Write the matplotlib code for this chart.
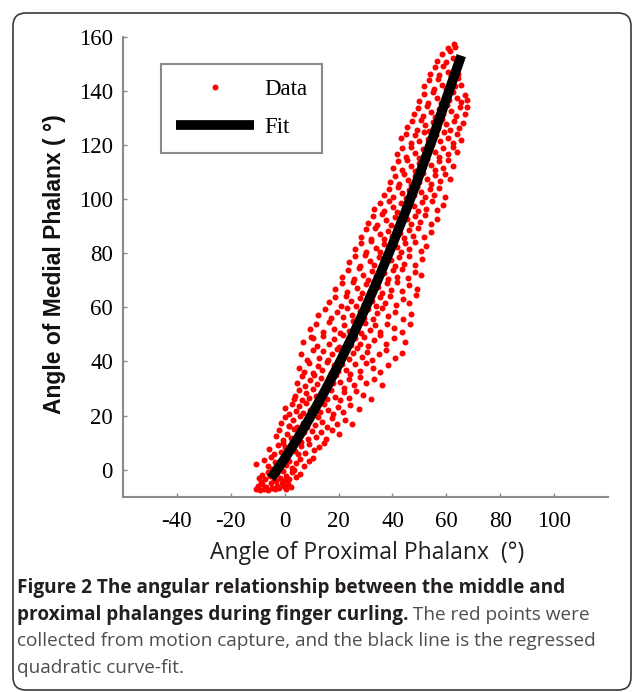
import numpy as np
import matplotlib
matplotlib.use("Agg")
from matplotlib import pyplot as plt
from matplotlib.patches import FancyBboxPatch
from matplotlib.lines import Line2D
from matplotlib.transforms import IdentityTransform

# red motion-capture points, (proximal angle, medial angle)
data_points = [
    # bottom blob
    (-10.5, -7.2), (-9.8, -6.1), (-9.0, -7.5), (-8.2, -5.4), (-7.5, -7.0), (-6.8, -6.3), (-6.0, -7.6),
    (-5.2, -5.0), (-4.5, -6.8), (-3.6, -7.3), (-2.8, -5.9), (-2.0, -6.9), (-1.1, -4.8), (-0.3, -6.2),
    (0.6, -7.1), (1.4, -5.3), (2.3, -6.4), (-8.8, -4.5), (-3.0, -4.2), (0.2, -4.0),
    (-9.6, -3.1), (-8.4, -1.8), (-7.2, -3.6), (-6.1, -0.9), (-5.3, -2.4), (-3.9, -3.8), (-2.7, -1.2),
    (-1.8, -3.0), (-0.6, -0.4), (0.5, -2.2), (1.7, -3.4), (2.8, -1.0), (4.1, -2.6), (5.6, -1.5),
    (-4.6, 0.2), (3.4, -0.1),
    # 0 .. 20
    (-10.5, 2.0), (-7.8, 3.6), (-6.2, 1.4), (-5.0, 4.5), (-3.4, 2.8), (-2.1, 0.9), (-0.8, 4.1),
    (0.4, 1.7), (1.6, 3.3), (2.9, 0.6), (4.3, 2.4), (5.8, 4.0), (7.2, 1.2), (8.9, 3.1), (10.6, 4.2),
    (-5.6, 7.8), (-4.0, 5.9), (-2.5, 9.2), (-1.3, 6.7), (0.1, 8.5), (1.2, 5.4), (2.6, 9.6), (3.7, 7.0),
    (4.9, 5.8), (6.2, 8.9), (7.6, 6.3), (9.1, 9.4), (10.8, 7.1), (12.6, 8.4), (14.5, 9.7), (-0.4, 10.0),
    (-3.2, 12.5), (-1.9, 14.6), (-0.5, 10.9), (0.8, 13.3), (2.3, 11.6), (3.5, 14.9), (4.8, 12.1),
    (6.0, 10.4), (7.3, 13.8), (8.7, 11.3), (10.2, 14.2), (11.8, 12.0), (13.5, 13.9), (15.3, 11.5),
    (17.6, 14.6), (20.2, 13.1), (1.5, 16.0),
    (-1.4, 17.2), (0.2, 19.5), (1.6, 16.1), (3.1, 18.3), (4.5, 15.6), (5.7, 19.8), (7.0, 17.4),
    (8.4, 15.9), (9.6, 18.8), (11.1, 16.6), (12.5, 19.3), (14.0, 17.5), (15.8, 15.8), (17.5, 19.0),
    (19.6, 16.9), (22.4, 18.4), (25.0, 16.8),
    # 20 .. 50
    (0.1, 22.8), (1.5, 20.4), (2.8, 24.1), (4.2, 21.7), (5.5, 23.6), (6.8, 20.9), (8.0, 24.7),
    (9.3, 22.2), (10.6, 20.3), (11.9, 23.9), (13.3, 21.4), (14.8, 24.4), (16.2, 22.0), (17.9, 20.6),
    (19.7, 23.3), (21.8, 21.2), (24.3, 24.0), (27.5, 22.5), (3.5, 26.0),
    (3.9, 27.4), (5.2, 29.6), (6.6, 25.8), (7.9, 28.3), (9.1, 26.5), (10.5, 29.9), (11.8, 27.1),
    (13.2, 25.4), (14.5, 28.8), (15.9, 26.2), (17.3, 29.3), (18.7, 27.0), (20.4, 25.6), (22.1, 28.6),
    (24.0, 26.4), (26.3, 29.0), (29.2, 27.5), (32.0, 26.0),
    (4.6, 32.2), (6.3, 34.5), (7.7, 30.8), (9.4, 33.1), (10.8, 35.0), (12.1, 31.5), (13.6, 33.8),
    (15.0, 30.6), (16.4, 34.2), (17.8, 31.9), (19.2, 34.8), (20.6, 32.4), (22.2, 30.3), (23.9, 33.6),
    (25.7, 31.1), (27.8, 34.4), (30.1, 32.0), (33.0, 33.5), (36.0, 31.2),
    (5.3, 37.5), (7.2, 36.1), (9.0, 39.4), (10.6, 35.6), (12.3, 38.2), (14.0, 36.8), (15.6, 39.7),
    (17.1, 35.9), (18.5, 38.6), (19.9, 36.4), (21.3, 39.2), (22.8, 37.0), (24.4, 35.3), (26.1, 38.9),
    (28.0, 36.6), (30.2, 39.5), (32.6, 37.4), (35.3, 36.2), (38.4, 38.6),
    (6.2, 42.8), (8.4, 40.7), (10.5, 44.2), (12.6, 41.3), (14.4, 43.7), (16.1, 40.4), (17.7, 42.9),
    (19.3, 44.6), (20.8, 41.6), (22.3, 43.9), (23.8, 40.9), (25.3, 43.1), (26.9, 44.8), (28.6, 41.8),
    (30.4, 43.5), (32.5, 40.5), (34.9, 42.6), (37.6, 44.1), (40.8, 41.4), (43.5, 43.0),
    (6.8, 47.0), (9.7, 48.9), (11.9, 45.8), (14.2, 49.3), (16.5, 46.6), (18.3, 48.4), (20.0, 45.5),
    (21.6, 49.7), (23.1, 47.2), (24.7, 45.9), (26.2, 48.8), (27.8, 46.4), (29.4, 49.1), (31.1, 45.7),
    (33.0, 47.8), (35.2, 49.6), (37.7, 46.3), (40.5, 48.5), (44.8, 47.3), (10.4, 48.6),
    # 50 .. 100
    (9.3, 51.8), (11.8, 53.9), (14.1, 50.7), (16.4, 54.5), (18.5, 52.1), (20.4, 50.4), (22.1, 53.6),
    (23.7, 51.2), (25.2, 54.8), (26.8, 52.4), (28.3, 50.6), (29.9, 54.1), (31.5, 51.7), (33.4, 53.3),
    (35.5, 50.9), (37.9, 54.0), (40.6, 52.2), (43.6, 51.0), (46.5, 53.8),
    (12.4, 57.3), (14.9, 59.4), (17.2, 55.9), (19.5, 58.1), (21.5, 56.4), (23.3, 59.6), (25.0, 57.0),
    (26.6, 55.3), (28.1, 58.7), (29.6, 56.2), (31.1, 59.2), (32.7, 55.7), (34.4, 57.9), (36.3, 59.8),
    (38.5, 56.6), (41.0, 58.4), (43.8, 55.5), (47.0, 57.6),
    (16.3, 61.9), (18.7, 63.8), (20.9, 60.6), (22.8, 64.3), (24.6, 62.2), (26.3, 60.3), (27.9, 63.5),
    (29.4, 61.1), (30.9, 64.6), (32.4, 62.4), (33.9, 60.5), (35.5, 63.7), (37.2, 61.6), (39.1, 64.1),
    (41.3, 60.9), (43.8, 63.0), (46.2, 61.7), (48.9, 64.4),
    (18.8, 66.9), (21.2, 68.8), (23.3, 65.6), (25.2, 69.5), (27.0, 67.2), (28.7, 65.4), (30.3, 68.5),
    (31.8, 66.1), (33.3, 69.7), (34.8, 67.6), (36.3, 65.3), (37.9, 68.9), (39.6, 66.5), (41.5, 69.2),
    (43.7, 65.9), (46.2, 68.1), (49.0, 66.7),
    (21.4, 71.3), (23.6, 73.9), (25.6, 70.6), (27.5, 74.5), (29.2, 72.0), (30.9, 70.2), (32.5, 73.4),
    (34.0, 71.5), (35.5, 74.7), (37.0, 72.6), (38.5, 70.4), (40.1, 73.8), (41.8, 71.2), (43.7, 74.2),
    (45.9, 70.8), (48.3, 73.1), (50.6, 71.9),
    (23.8, 76.6), (26.0, 78.9), (28.0, 75.4), (29.9, 79.3), (31.6, 77.0), (33.3, 75.6), (34.9, 78.5),
    (36.4, 76.3), (37.9, 79.6), (39.4, 77.4), (40.9, 75.2), (42.5, 78.7), (44.2, 76.1), (46.1, 79.1),
    (48.3, 75.8), (50.8, 77.9),
    (26.2, 81.5), (28.4, 83.8), (30.3, 80.4), (32.1, 84.5), (33.8, 82.0), (35.4, 80.3), (37.0, 83.4),
    (38.5, 81.2), (40.0, 84.6), (41.5, 82.4), (43.0, 80.6), (44.6, 83.9), (46.3, 81.5), (48.2, 84.2),
    (50.4, 80.9), (52.6, 82.8),
    (28.2, 86.1), (30.2, 88.8), (31.9, 85.4), (33.6, 89.4), (35.2, 87.0), (36.8, 85.2), (38.4, 88.3),
    (39.9, 86.5), (41.4, 89.6), (42.9, 87.4), (44.4, 85.5), (46.0, 88.7), (47.7, 86.3), (49.6, 89.2),
    (51.8, 85.9), (54.2, 87.8),
    (30.8, 91.2), (32.7, 93.7), (34.4, 90.5), (36.1, 94.4), (37.7, 92.1), (39.3, 90.3), (40.9, 93.3),
    (42.4, 91.4), (43.9, 94.6), (45.4, 92.5), (46.9, 90.6), (48.5, 93.9), (50.2, 91.6), (52.1, 94.2),
    (54.3, 90.9), (56.5, 92.8),
    (33.3, 96.4), (35.2, 98.7), (36.9, 95.5), (38.6, 99.4), (40.2, 97.1), (41.8, 95.3), (43.3, 98.4),
    (44.8, 96.3), (46.3, 99.6), (47.8, 97.5), (49.3, 95.6), (50.9, 98.9), (52.6, 96.5), (54.5, 99.2),
    (56.6, 95.9), (58.8, 97.8),
    # 100 .. top
    (36.8, 101.6), (38.7, 103.7), (40.3, 100.6), (41.9, 104.4), (43.4, 102.1), (44.9, 100.3),
    (46.3, 103.3), (47.8, 101.4), (49.2, 104.6), (50.7, 102.5), (52.2, 100.7), (53.8, 103.9),
    (55.5, 101.5), (57.3, 104.2), (59.4, 100.9),
    (39.2, 106.3), (41.0, 108.7), (42.6, 105.5), (44.1, 109.4), (45.6, 107.1), (47.0, 105.3),
    (48.4, 108.4), (49.9, 106.4), (51.3, 109.6), (52.8, 107.5), (54.3, 105.6), (55.9, 108.9),
    (57.6, 106.5), (59.5, 109.2), (61.2, 107.4),
    (40.2, 111.5), (42.0, 113.9), (43.6, 110.6), (45.2, 114.5), (46.8, 112.2), (48.3, 110.4),
    (49.8, 113.4), (51.3, 111.6), (52.7, 114.7), (54.2, 112.6), (55.7, 110.7), (57.3, 113.9),
    (58.9, 111.5), (60.7, 114.3), (62.6, 112.1),
    (41.6, 116.8), (43.5, 118.9), (45.1, 115.6), (46.7, 119.4), (48.3, 117.1), (49.8, 115.3),
    (51.3, 118.4), (52.8, 116.4), (54.2, 119.6), (55.7, 117.5), (57.2, 115.7), (58.8, 118.9),
    (60.5, 116.5), (62.3, 119.2), (64.1, 117.3),
    (43.2, 122.4), (45.1, 124.2), (46.8, 120.7), (48.4, 123.6), (50.0, 121.5), (51.5, 124.8),
    (53.0, 122.3), (54.5, 120.4), (56.0, 123.7), (57.5, 121.6), (59.0, 124.6), (60.6, 122.5),
    (62.3, 120.8), (64.0, 123.9), (65.4, 121.9),
    (45.4, 126.5), (47.3, 128.9), (49.0, 125.6), (50.6, 129.4), (52.2, 127.2), (53.7, 125.3),
    (55.2, 128.4), (56.7, 126.4), (58.2, 129.7), (59.7, 127.6), (61.2, 125.7), (62.8, 128.8),
    (64.5, 126.4), (66.2, 128.1),
    (47.8, 131.3), (49.6, 133.8), (51.3, 130.6), (52.9, 134.4), (54.4, 132.1), (55.9, 130.4),
    (57.4, 133.4), (58.9, 131.5), (60.3, 134.6), (61.8, 132.6), (63.4, 130.7), (65.0, 133.9),
    (66.7, 131.4), (67.6, 134.2),
    (49.7, 136.4), (51.6, 138.8), (53.3, 135.6), (54.9, 139.4), (56.4, 137.2), (57.9, 135.4),
    (59.4, 138.4), (60.9, 136.5), (62.4, 139.6), (63.9, 137.4), (65.4, 135.8), (66.9, 138.6),
    (67.8, 136.6),
    (51.8, 141.6), (53.7, 143.9), (55.4, 140.7), (57.0, 144.5), (58.5, 142.2), (60.0, 140.5),
    (61.5, 143.4), (63.0, 141.6), (64.4, 144.6), (65.3, 142.0),
    (53.9, 146.4), (55.8, 148.8), (57.4, 145.7), (58.9, 149.3), (60.4, 147.1), (61.8, 145.5),
    (63.2, 148.3), (64.3, 146.4),
    (56.5, 151.2), (58.3, 153.5), (59.8, 150.6), (61.2, 154.6), (62.4, 152.2), (63.3, 156.3),
    (62.9, 157.4), (60.6, 156.0), (64.0, 150.9),
]

# black quadratic fit
fit_x = [-5, 0, 5, 10, 15, 20, 25, 30, 35, 40, 45, 50, 55, 60, 65.5]
fit_y = [-3.2, 4.0, 11.8, 20.2, 29.2, 38.8, 49.0, 59.8, 71.2, 83.2, 95.8, 109.0, 122.8, 137.2, 153.0]

x_ticks = [-40, -20, 0, 20, 40, 60, 80, 100]
y_ticks = [0, 20, 40, 60, 80, 100, 120, 140, 160]

caption_bold_1 = "Figure 2 The angular relationship between the middle and"
caption_bold_2 = "proximal phalanges during finger curling."
caption_rest_2 = " The red points were"
caption_line_3 = "collected from motion capture, and the black line is the regressed"
caption_line_4 = "quadratic curve-fit."

W, H = 632, 692
fig = plt.figure(figsize=(W / 100, H / 100), dpi=100)
fig.patch.set_facecolor("white")

# axes box in pixels: left 122.7, right 608.3, top 36.7, bottom 496.7
ax = fig.add_axes([122.7 / W, 1 - 496.7 / H, 485.6 / W, 460.0 / H])

pts = np.array(data_points)
ax.plot(pts[:, 0], pts[:, 1], "o", color="#ff0000", markersize=4.3, markeredgewidth=0,
        linestyle="none", label="Data", zorder=2)
ax.plot(fit_x, fit_y, color="black", linewidth=7, solid_capstyle="butt",
        solid_joinstyle="round", label="Fit", zorder=3)

ax.set_xlim(-60, 120)
ax.set_ylim(-10, 160)
ax.set_xticks(x_ticks)
ax.set_yticks(y_ticks)

tick_font = {"family": "Liberation Serif", "size": 16.5}
ax.set_xticklabels([str(v) for v in x_ticks], fontdict=tick_font)
ax.set_yticklabels([str(v) for v in y_ticks], fontdict=tick_font)

for s in ["top", "right"]:
    ax.spines[s].set_visible(False)
for s in ["left", "bottom"]:
    ax.spines[s].set_color("#8a8a8a")
    ax.spines[s].set_linewidth(1.5)
ax.tick_params(direction="in", length=3, width=1, color="#8a8a8a", labelcolor="black")
ax.tick_params(axis="x", pad=10)
ax.tick_params(axis="y", pad=7)

handles = [
    Line2D([], [], marker="o", color="#ff0000", markersize=4.3, markeredgewidth=0, linestyle="none"),
    Line2D([], [], color="black", linewidth=7, solid_capstyle="butt"),
]
leg = ax.legend(handles, ["Data", "Fit"], loc="upper left", bbox_to_anchor=(0.0789, 0.9407),
                borderaxespad=0, prop={"family": "Liberation Serif", "size": 16.5},
                handlelength=3.4, handletextpad=0.45, borderpad=0.65, labelspacing=0.75,
                numpoints=1, fancybox=False, framealpha=1)
leg.get_frame().set_edgecolor("#8a8a8a")
leg.get_frame().set_linewidth(1.5)

# axis titles
fig.text(55 / W, 1 - 264 / H, "Angle of Medial Phalanx ( \u00b0)", rotation=90,
         ha="center", va="center", family="Liberation Sans", fontweight="bold", fontsize=16.5,
         color="#111111")
fig.text(367 / W, 1 - 553 / H, "Angle of Proximal Phalanx  (\u00b0)", ha="center", va="center",
         family="Open Sans", fontsize=16.5, color="#231f20")

# caption
cap_x = 17 / W
cap_size = 13.7
bold_col = "#231f20"
reg_col = "#4d4d4f"
fig.text(cap_x, 1 - 588 / H, caption_bold_1, ha="left", va="center", family="Open Sans",
         fontweight="bold", fontsize=cap_size, color=bold_col)
t2 = fig.text(cap_x, 1 - 615 / H, caption_bold_2, ha="left", va="center", family="Open Sans",
              fontweight="bold", fontsize=cap_size, color=bold_col)
renderer = fig.canvas.get_renderer()
bb = t2.get_window_extent(renderer)
fig.text(bb.x1 / W, 1 - 615 / H, caption_rest_2, ha="left", va="center", family="Open Sans",
         fontsize=cap_size, color=reg_col)
fig.text(cap_x, 1 - 641 / H, caption_line_3, ha="left", va="center", family="Open Sans",
         fontsize=cap_size, color=reg_col)
fig.text(cap_x, 1 - 668 / H, caption_line_4, ha="left", va="center", family="Open Sans",
         fontsize=cap_size, color=reg_col)

# rounded frame around the whole figure panel (pixel coordinates, origin bottom-left)
frame = FancyBboxPatch((13, 2), 618, 677, boxstyle="round,pad=0,rounding_size=13",
                       transform=IdentityTransform(), facecolor="none", edgecolor="#3a3a3a",
                       linewidth=1.2)
fig.patches.append(frame)

fig.savefig("out.png", dpi=100)
